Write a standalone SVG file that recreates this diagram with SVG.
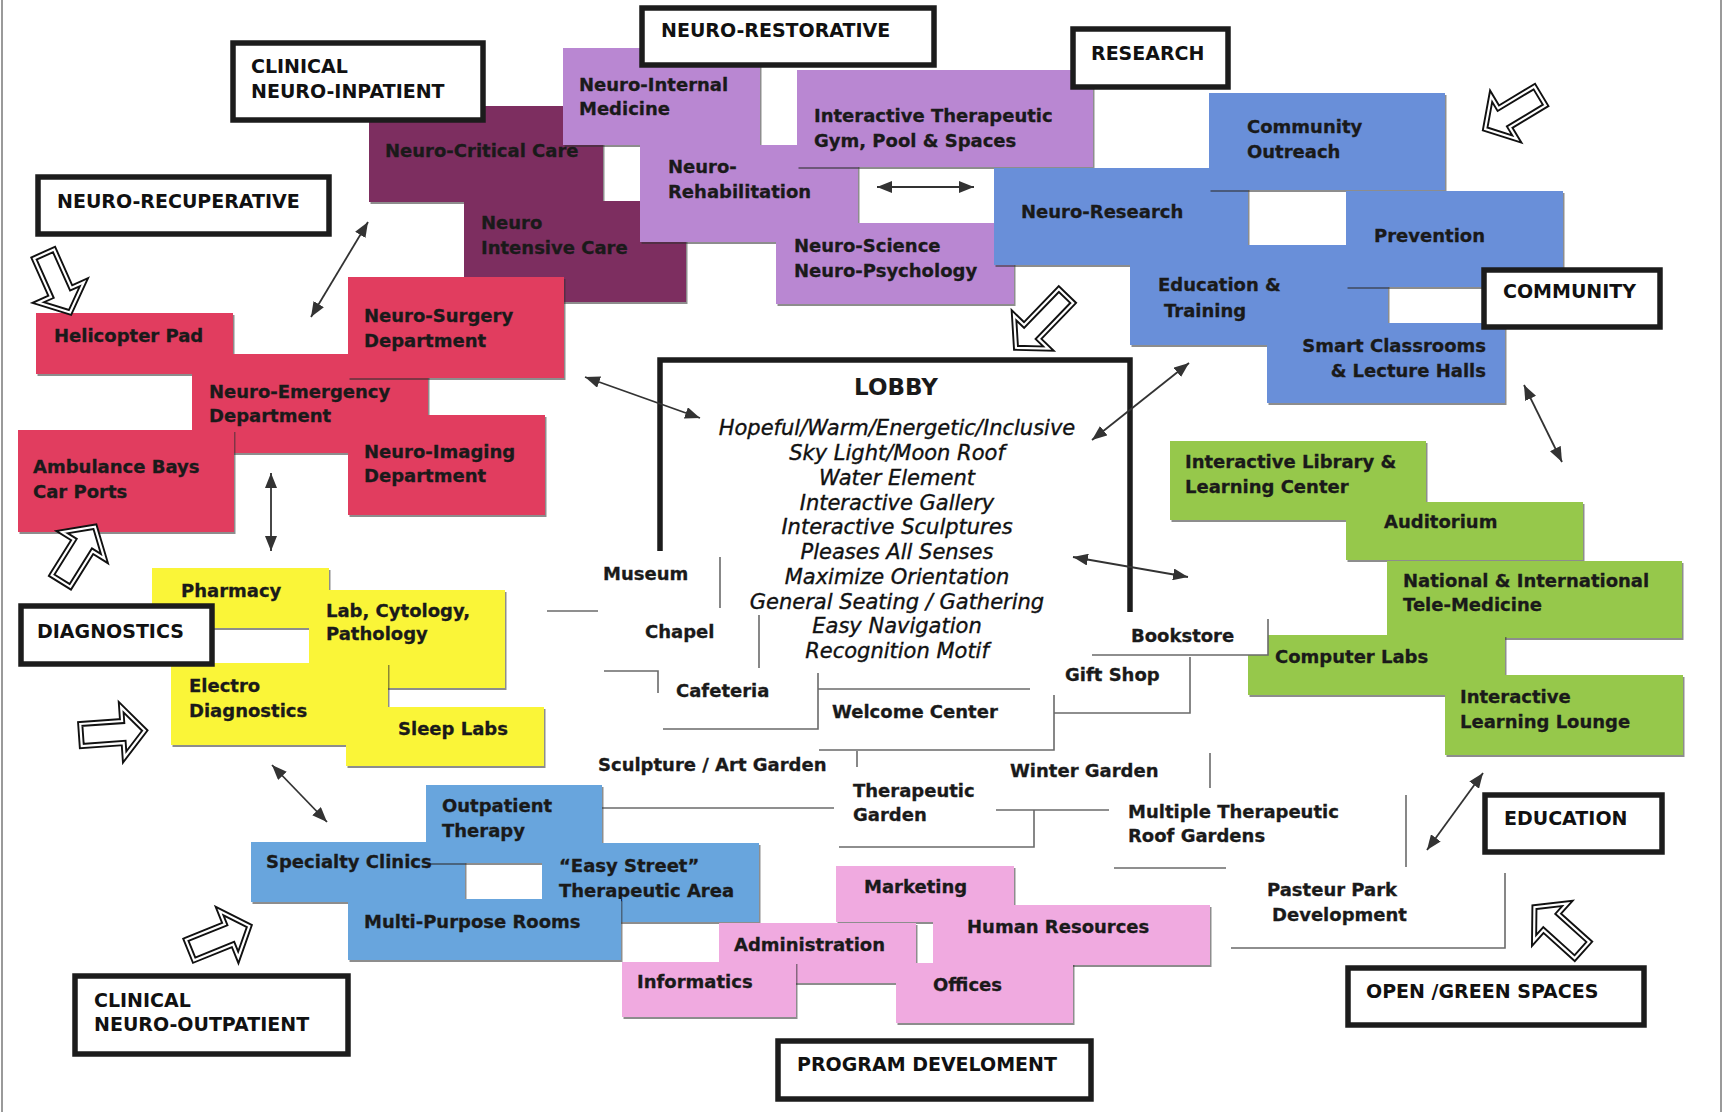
<svg xmlns="http://www.w3.org/2000/svg" width="1724" height="1112" viewBox="0 0 1724 1112">
<style>
text{font-family:"DejaVu Sans","Liberation Sans",sans-serif;font-weight:bold;font-size:18px;fill:#1a1a1a;stroke:#1a1a1a;stroke-width:0.3}
.lbl rect{fill:#fff;stroke:#1c1c1c;stroke-width:5.5}
.lbl text{font-size:19px;font-weight:bold;fill:#111;stroke:none}
.box{filter:url(#sh)}
.mar{fill:#7d2f60}.pur{fill:#b987d2}.blu{fill:#698fd9}.red{fill:#e13c5f}
.yel{fill:#faf537}.grn{fill:#96c84b}.lbl2{fill:#68a5dd}.pnk{fill:#f0aae0}
.lob{font-style:italic;font-weight:normal;font-size:21px;text-anchor:middle;fill:#111;stroke:#111;stroke-width:0.35}
.ttl{font-size:23px;stroke:none}
.os{fill:none;stroke:#6a6a6a;stroke-width:1.6}
.con{fill:none;stroke:#333;stroke-width:1.8;marker-start:url(#ah);marker-end:url(#ah)}
.ha{fill:#fff;stroke:#111;stroke-width:6;stroke-linejoin:miter}
.hb{fill:none;stroke:#fff;stroke-width:2.2;stroke-linejoin:miter}
</style>
<defs>
<filter id="sh" x="-5%" y="-5%" width="110%" height="115%">
<feDropShadow dx="1.5" dy="2" stdDeviation="0.7" flood-color="#333" flood-opacity="0.55"/>
</filter>
<marker id="ah" markerUnits="userSpaceOnUse" markerWidth="16" markerHeight="12" refX="15" refY="6" orient="auto-start-reverse">
<path d="M0,0 L15,6 L0,12 Z" fill="#333"/>
</marker>
<path id="blk64" d="M0,-11 H42 V-25 L64,0 L42,25 V11 H0 Z"/>
<path id="blk72" d="M0,-10 H50 V-24 L72,0 L50,24 V10 H0 Z"/>
</defs>
<rect width="1724" height="1112" fill="#fff"/>
<line x1="2" y1="0" x2="2" y2="1112" stroke="#9a9a9a" stroke-width="2"/>
<line x1="1721" y1="0" x2="1721" y2="1112" stroke="#9a9a9a" stroke-width="2"/>

<!-- open / green spaces outlines -->
<g id="open-space-lines">
<path class="os" d="M720,557 V608"/>
<path class="os" d="M547,611 H598"/>
<path class="os" d="M759,615 V668"/>
<path class="os" d="M604,671 H658 V693"/>
<path class="os" d="M663,729 H818 V673"/>
<path class="os" d="M818,689 H1030"/>
<path class="os" d="M819,750 H1054 V695"/>
<path class="os" d="M857,751 V767"/>
<path class="os" d="M583,808 H834"/>
<path class="os" d="M839,847 H1034 V810"/>
<path class="os" d="M996,810 H1109"/>
<path class="os" d="M1210,753 V788"/>
<path class="os" d="M1114,868 H1226"/>
<path class="os" d="M1406,795 V867"/>
<path class="os" d="M1231,948 H1505 V873"/>
<path class="os" d="M1054,713 H1190 V657"/>
</g>

<!-- Neuro-inpatient -->
<g id="neuro-critical-care"><rect class="box mar" x="369" y="106" width="234" height="96"/><text x="385" y="157">Neuro-Critical Care</text></g>
<g id="neuro-intensive-care"><rect class="box mar" x="464" y="201" width="222" height="101"/><text x="481" y="229">Neuro</text><text x="481" y="254">Intensive Care</text></g>

<!-- Neuro-restorative -->
<g id="neuro-internal-medicine"><rect class="box pur" x="563" y="48" width="197" height="97"/><text x="579" y="91">Neuro-Internal</text><text x="579" y="115">Medicine</text></g>
<g id="neuro-rehabilitation"><rect class="box pur" x="640" y="145" width="218" height="97"/><text x="668" y="173">Neuro-</text><text x="668" y="198">Rehabilitation</text></g>
<g id="interactive-gym"><rect class="box pur" x="797" y="70" width="296" height="97"/><text x="814" y="122">Interactive Therapeutic</text><text x="814" y="147">Gym, Pool &amp; Spaces</text></g>
<g id="neuro-science"><rect class="box pur" x="776" y="223" width="238" height="81"/><text x="794" y="252">Neuro-Science</text><text x="794" y="277">Neuro-Psychology</text></g>

<!-- Research / community -->
<g id="neuro-research"><rect class="box blu" x="994" y="168" width="254" height="97"/><text x="1021" y="218">Neuro-Research</text></g>
<g id="community-outreach"><rect class="box blu" x="1209" y="93" width="236" height="97"/><text x="1247" y="133">Community</text><text x="1247" y="158">Outreach</text></g>
<g id="education-training"><rect class="box blu" x="1130" y="245" width="258" height="100"/><text x="1158" y="291">Education &amp;</text><text x="1164" y="317">Training</text></g>
<g id="prevention"><rect class="box blu" x="1346" y="191" width="217" height="96"/><text x="1374" y="242">Prevention</text></g>
<g id="smart-classrooms"><rect class="box blu" x="1267" y="323" width="238" height="80"/><text x="1486" y="352" text-anchor="end">Smart Classrooms</text><text x="1486" y="377" text-anchor="end">&amp; Lecture Halls</text></g>

<!-- Neuro-recuperative -->
<g id="helicopter-pad"><rect class="box red" x="36" y="313" width="197" height="61"/><text x="54" y="342">Helicopter Pad</text></g>
<g id="neuro-emergency"><rect class="box red" x="192" y="354" width="236" height="99"/><text x="209" y="398">Neuro-Emergency</text><text x="209" y="422">Department</text></g>
<g id="neuro-surgery"><rect class="box red" x="348" y="277" width="216" height="101"/><text x="364" y="322">Neuro-Surgery</text><text x="364" y="347">Department</text></g>
<g id="ambulance-bays"><rect class="box red" x="18" y="430" width="216" height="102"/><text x="33" y="473">Ambulance Bays</text><text x="33" y="498">Car Ports</text></g>
<g id="neuro-imaging"><rect class="box red" x="348" y="415" width="197" height="100"/><text x="364" y="458">Neuro-Imaging</text><text x="364" y="482">Department</text></g>

<!-- Diagnostics -->
<g id="pharmacy"><rect class="box yel" x="152" y="568" width="177" height="60"/><text x="181" y="597">Pharmacy</text></g>
<g id="lab-cytology"><rect class="box yel" x="309" y="590" width="196" height="98"/><text x="326" y="617">Lab, Cytology,</text><text x="326" y="640">Pathology</text></g>
<g id="electro-diagnostics"><rect class="box yel" x="171" y="663" width="217" height="82"/><text x="189" y="692">Electro</text><text x="189" y="717">Diagnostics</text></g>
<g id="sleep-labs"><rect class="box yel" x="346" y="707" width="198" height="59"/><text x="398" y="735">Sleep Labs</text></g>

<!-- Clinical neuro-outpatient -->
<g id="specialty-clinics"><rect class="box lbl2" x="251" y="842" width="214" height="60"/></g>
<g id="outpatient-therapy"><rect class="box lbl2" x="426" y="785" width="176" height="78"/><text x="442" y="812">Outpatient</text><text x="442" y="837">Therapy</text></g>
<g id="specialty-clinics-label"><text x="266" y="868">Specialty Clinics</text></g>
<g id="easy-street"><rect class="box lbl2" x="542" y="843" width="217" height="79"/><text x="559" y="872">“Easy Street”</text><text x="559" y="897">Therapeutic Area</text></g>
<g id="multi-purpose"><rect class="box lbl2" x="348" y="899" width="273" height="61"/><text x="364" y="928">Multi-Purpose Rooms</text></g>

<!-- Program development -->
<g id="marketing"><rect class="box pnk" x="836" y="866" width="178" height="56"/><text x="864" y="893">Marketing</text></g>
<g id="human-resources"><rect class="box pnk" x="933" y="905" width="277" height="60"/><text x="967" y="933">Human Resources</text></g>
<g id="administration"><rect class="box pnk" x="719" y="923" width="197" height="60"/><text x="734" y="951">Administration</text></g>
<g id="informatics"><rect class="box pnk" x="622" y="962" width="174" height="55"/><text x="637" y="988">Informatics</text></g>
<g id="offices"><rect class="box pnk" x="896" y="963" width="177" height="60"/><text x="933" y="991">Offices</text></g>

<!-- Education -->
<g id="interactive-library"><rect class="box grn" x="1170" y="441" width="256" height="79"/><text x="1185" y="468">Interactive Library &amp;</text><text x="1185" y="493">Learning Center</text></g>
<g id="auditorium"><rect class="box grn" x="1346" y="502" width="237" height="58"/><text x="1384" y="528">Auditorium</text></g>
<g id="tele-medicine"><rect class="box grn" x="1387" y="561" width="295" height="77"/><text x="1403" y="587">National &amp; International</text><text x="1403" y="611">Tele-Medicine</text></g>
<g id="computer-labs"><rect class="box grn" x="1248" y="635" width="257" height="60"/><text x="1275" y="663">Computer Labs</text></g>
<g id="learning-lounge"><rect class="box grn" x="1445" y="675" width="238" height="80"/><text x="1460" y="703">Interactive</text><text x="1460" y="728">Learning Lounge</text></g>

<!-- Open / green spaces -->
<g id="bookstore"><rect x="1092" y="617" width="176" height="38" fill="#fff"/><path class="os" d="M1092,655 H1268 V619"/><text x="1131" y="642">Bookstore</text></g>
<g id="museum"><text x="603" y="580">Museum</text></g>
<g id="chapel"><text x="645" y="638">Chapel</text></g>
<g id="cafeteria"><text x="676" y="697">Cafeteria</text></g>
<g id="welcome-center"><text x="832" y="718">Welcome Center</text></g>
<g id="gift-shop"><text x="1065" y="681">Gift Shop</text></g>
<g id="sculpture-garden"><text x="598" y="771">Sculpture / Art Garden</text></g>
<g id="winter-garden"><text x="1010" y="777">Winter Garden</text></g>
<g id="therapeutic-garden"><text x="853" y="797">Therapeutic</text><text x="853" y="821">Garden</text></g>
<g id="roof-gardens"><text x="1128" y="818">Multiple Therapeutic</text><text x="1128" y="842">Roof Gardens</text></g>
<g id="pasteur-park"><text x="1267" y="896">Pasteur Park</text><text x="1272" y="921">Development</text></g>

<!-- Lobby -->
<g id="lobby">
<path d="M660,551 V360 H1130 V612" fill="none" stroke="#1c1c1c" stroke-width="5.5"/>
<text class="ttl" x="896" y="395" text-anchor="middle">LOBBY</text>
<text class="lob" x="897" y="435">Hopeful/Warm/Energetic/Inclusive</text>
<text class="lob" x="897" y="460">Sky Light/Moon Roof</text>
<text class="lob" x="897" y="485">Water Element</text>
<text class="lob" x="897" y="510">Interactive Gallery</text>
<text class="lob" x="897" y="534">Interactive Sculptures</text>
<text class="lob" x="897" y="559">Pleases All Senses</text>
<text class="lob" x="897" y="584">Maximize Orientation</text>
<text class="lob" x="897" y="609">General Seating / Gathering</text>
<text class="lob" x="897" y="633">Easy Navigation</text>
<text class="lob" x="897" y="658">Recognition Motif</text>
</g>

<!-- Category labels -->
<g id="label-clinical-inpatient" class="lbl"><rect x="233" y="43" width="250" height="77"/><text x="251" y="73">CLINICAL</text><text x="251" y="98">NEURO-INPATIENT</text></g>
<g id="label-neuro-recuperative" class="lbl"><rect x="38" y="177" width="291" height="57"/><text x="57" y="208">NEURO-RECUPERATIVE</text></g>
<g id="label-neuro-restorative" class="lbl"><rect x="642" y="8" width="292" height="57"/><text x="661" y="37">NEURO-RESTORATIVE</text></g>
<g id="label-research" class="lbl"><rect x="1073" y="29" width="155" height="58"/><text x="1091" y="60">RESEARCH</text></g>
<g id="label-community" class="lbl"><rect x="1484" y="270" width="176" height="57"/><text x="1503" y="298">COMMUNITY</text></g>
<g id="label-diagnostics" class="lbl"><rect x="21" y="606" width="191" height="58"/><text x="37" y="638">DIAGNOSTICS</text></g>
<g id="label-education" class="lbl"><rect x="1485" y="795" width="177" height="57"/><text x="1504" y="825">EDUCATION</text></g>
<g id="label-open-green" class="lbl"><rect x="1348" y="968" width="296" height="57"/><text x="1366" y="998">OPEN /GREEN SPACES</text></g>
<g id="label-clinical-outpatient" class="lbl"><rect x="75" y="976" width="273" height="78"/><text x="94" y="1007">CLINICAL</text><text x="94" y="1031">NEURO-OUTPATIENT</text></g>
<g id="label-program" class="lbl"><rect x="778" y="1041" width="313" height="58"/><text x="797" y="1071">PROGRAM DEVELOMENT</text></g>

<!-- connectors -->
<g id="connectors">
<line class="con" x1="368" y1="222" x2="311" y2="317"/>
<line class="con" x1="585" y1="377" x2="700" y2="418"/>
<line class="con" x1="1092" y1="440" x2="1189" y2="363"/>
<line class="con" x1="1073" y1="557" x2="1188" y2="577"/>
<line class="con" x1="1524" y1="385" x2="1562" y2="462"/>
<line class="con" x1="271" y1="473" x2="271" y2="551"/>
<line class="con" x1="272" y1="765" x2="327" y2="822"/>
<line class="con" x1="1483" y1="773" x2="1427" y2="850"/>
<line class="con" x1="877" y1="187" x2="974" y2="187"/>
<g transform="translate(44,254) rotate(66)"><use href="#blk64" class="ha"/><use href="#blk64" class="hb"/></g>
<g transform="translate(61,581) rotate(-58)"><use href="#blk64" class="ha"/><use href="#blk64" class="hb"/></g>
<g transform="translate(81,735) rotate(-4)"><use href="#blk64" class="ha"/><use href="#blk64" class="hb"/></g>
<g transform="translate(190,950) rotate(-22)"><use href="#blk64" class="ha"/><use href="#blk64" class="hb"/></g>
<g transform="translate(1582,950) rotate(222)"><use href="#blk64" class="ha"/><use href="#blk64" class="hb"/></g>
<g transform="translate(1066,296) rotate(134)"><use href="#blk72" class="ha"/><use href="#blk72" class="hb"/></g>
<g transform="translate(1540,96) rotate(149)"><use href="#blk64" class="ha"/><use href="#blk64" class="hb"/></g>
</g>
</svg>
